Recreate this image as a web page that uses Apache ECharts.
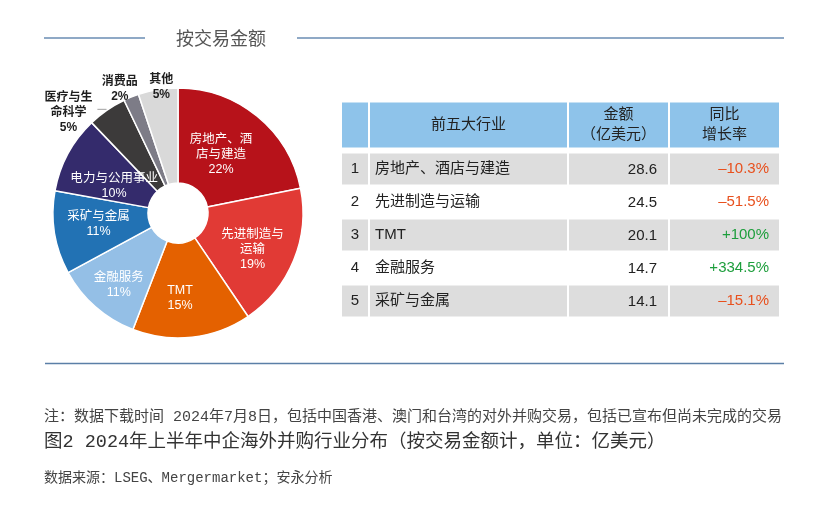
<!DOCTYPE html>
<html>
<head>
<meta charset="utf-8">
<script src="https://cdn.jsdelivr.net/npm/echarts@6/dist/echarts.min.js"></script>
<style>
html,body{margin:0;padding:0;background:#fff;}
#chart{width:828px;height:511px;}
</style>
</head>
<body>
<div id="chart"></div>
<script>
// ---------- DATA ----------
const pieNames = ['房地产、酒店与建造','先进制造与运输','TMT','金融服务','采矿与金属','电力与公用事业','医疗与生命科学','消费品','其他'];
const pieLabelLines = [['房地产、酒','店与建造'],['先进制造与','运输'],['TMT'],['金融服务'],['采矿与金属'],['电力与公用事业'],['医疗与生','命科学'],['消费品'],['其他']];
const pieValues = [28.6, 24.5, 20.1, 14.7, 14.1, 13.1, 6.6, 2.6, 6.7];

const tableHeaders = ['', '前五大行业', '金额\n（亿美元）', '同比\n增长率'];
const rankLabels = ['1', '2', '3', '4', '5'];
const topIndustries = ['房地产、酒店与建造', '先进制造与运输', 'TMT', '金融服务', '采矿与金属'];
const amounts = [28.6, 24.5, 20.1, 14.7, 14.1];
const growthRates = [-10.3, -51.5, 100, 334.5, -15.1];

const titleText = '按交易金额';
const noteText = '注：数据下载时间 2024年7月8日，包括中国香港、澳门和台湾的对外并购交易，包括已宣布但尚未完成的交易';
const captionText = '图2 2024年上半年中企海外并购行业分布（按交易金额计，单位：亿美元）';
const sourceText = '数据来源：LSEG、Mergermarket；安永分析';

// ---------- STYLE / LAYOUT ----------
const pieColors = ['#B7121A','#E13A35','#E46100','#94BFE6','#2272B4','#342B6C','#3C3A3A','#7D7C87','#D9D9D9'];
const outsideIdx = [6, 7, 8];
const labelOffsets = [[-8,4],[0,6],[-7,5],[-6,12],[0,-2],[7,11],[0,3],[15,0],[21,2]];
const outsideLines = {
  6: {show: true, length: 1, length2: 9, lineStyle: {color: '#A0A0A0', width: 1}},
  7: {show: false, length: 9, length2: 0},
  8: {show: false, length: 4, length2: 0}
};
const colStarts = [0, 28, 227, 328];
const colEnds = [26, 225, 326, 437];
const SANS = "'Liberation Sans','Noto Sans CJK SC',sans-serif";
const MONO = "'Liberation Mono','Noto Sans CJK SC',monospace";

const chart = echarts.init(document.getElementById('chart'), null, {renderer: 'canvas'});

function growthText(v) {
  return (v < 0 ? '\u2013' + Math.abs(v) : '+' + v) + '%';
}

const option = {
  animation: false,
  backgroundColor: '#fff',
  grid: [
    {left: 342, top: 102.5, width: 437, height: 45},
    {left: 342, top: 152.5, width: 437, height: 165}
  ],
  xAxis: [
    {gridIndex: 0, type: 'value', min: 0, max: 437, show: false},
    {gridIndex: 1, type: 'value', min: 0, max: 437, show: false}
  ],
  yAxis: [
    {gridIndex: 0, type: 'category', data: ['header'], show: false},
    {gridIndex: 1, type: 'category', data: rankLabels, inverse: true, show: false}
  ],
  graphic: [
    {type: 'line', shape: {x1: 44, y1: 38, x2: 145, y2: 38}, style: {stroke: '#8FA9C6', lineWidth: 2}},
    {type: 'line', shape: {x1: 297, y1: 38, x2: 784, y2: 38}, style: {stroke: '#8FA9C6', lineWidth: 2}},
    {type: 'line', shape: {x1: 45, y1: 363.5, x2: 784, y2: 363.5}, style: {stroke: '#5B7FA7', lineWidth: 1.5}},
    {type: 'text', x: 176, y: 40, style: {text: titleText, fill: '#555', fontSize: 18, fontFamily: SANS, verticalAlign: 'middle', align: 'left'}},
    {type: 'text', x: 44, y: 417, style: {text: noteText, fill: '#444', fontSize: 15, fontFamily: MONO, verticalAlign: 'middle', align: 'left'}},
    {type: 'text', x: 44, y: 442, style: {text: captionText, fill: '#333', fontSize: 18.5, fontFamily: MONO, verticalAlign: 'middle', align: 'left'}},
    {type: 'text', x: 44, y: 478, style: {text: sourceText, fill: '#444', fontSize: 14, fontFamily: MONO, verticalAlign: 'middle', align: 'left'}}
  ],
  series: [
    {
      type: 'pie',
      silent: true,
      center: [178, 213],
      radius: [30, 125],
      startAngle: 90,
      clockwise: true,
      avoidLabelOverlap: false,
      itemStyle: {borderColor: '#fff', borderWidth: 1.5},
      label: {
        show: true,
        fontFamily: SANS,
        formatter: function (p) {
          const key = outsideIdx.indexOf(p.dataIndex) >= 0 ? 'd' : 'w';
          const lines = pieLabelLines[p.dataIndex].concat([Math.round(p.percent) + '%']);
          return lines.map(function (l) { return '{' + key + '|' + l + '}'; }).join('\n');
        },
        rich: {
          w: {color: '#fff', fontSize: 12.5, lineHeight: 15, align: 'center', fontFamily: SANS},
          d: {color: '#1E1E1E', fontSize: 12, lineHeight: 15, align: 'center', fontFamily: SANS, fontWeight: 'bold'}
        }
      },
      labelLayout: function (params) {
        const o = labelOffsets[params.dataIndex];
        return {dx: o[0], dy: o[1]};
      },
      data: pieNames.map(function (n, i) {
        const outside = outsideIdx.indexOf(i) >= 0;
        return {
          name: n,
          value: pieValues[i],
          itemStyle: {color: pieColors[i]},
          label: {position: outside ? 'outside' : 'inside'},
          labelLine: outside ? outsideLines[i] : {show: false}
        };
      })
    },
    {
      type: 'custom',
      xAxisIndex: 0,
      yAxisIndex: 0,
      silent: true,
      data: [[0, 0]],
      encode: {x: 0, y: 1},
      renderItem: function (params, api) {
        const h = api.size([0, 1])[1];
        const cy = api.coord([0, 0])[1];
        const children = [];
        for (let c = 0; c < 4; c++) {
          const x0 = api.coord([colStarts[c], 0])[0];
          const x1 = api.coord([colEnds[c], 0])[0];
          children.push({type: 'rect', shape: {x: x0, y: cy - h / 2, width: x1 - x0, height: h}, style: {fill: '#8EC3EA'}});
          if (tableHeaders[c]) {
            children.push({type: 'text', style: {text: tableHeaders[c], x: (x0 + x1) / 2, y: cy, align: 'center', verticalAlign: 'middle', fontSize: 15, lineHeight: 20, fontFamily: SANS, fill: '#222'}});
          }
        }
        return {type: 'group', children: children};
      }
    },
    {
      type: 'custom',
      xAxisIndex: 1,
      yAxisIndex: 1,
      silent: true,
      data: rankLabels.map(function (r, i) { return [0, i]; }),
      encode: {x: 0, y: 1},
      renderItem: function (params, api) {
        const i = api.value(1);
        const h = api.size([0, 1])[1];
        const cy = api.coord([0, i])[1];
        const xs = colStarts.map(function (v) { return api.coord([v, i])[0]; });
        const xe = colEnds.map(function (v) { return api.coord([v, i])[0]; });
        const children = [];
        if (i % 2 === 0) {
          for (let c = 0; c < 4; c++) {
            children.push({type: 'rect', shape: {x: xs[c], y: cy - h / 2 + 1, width: xe[c] - xs[c], height: h - 2}, style: {fill: '#DDDDDD'}});
          }
        }
        const base = {fontSize: 15, fontFamily: SANS, verticalAlign: 'middle'};
        children.push({type: 'text', style: Object.assign({}, base, {text: rankLabels[i], x: (xs[0] + xe[0]) / 2, y: cy, align: 'center', fill: '#222'})});
        children.push({type: 'text', style: Object.assign({}, base, {text: topIndustries[i], x: xs[1] + 5, y: cy, align: 'left', fill: '#222'})});
        children.push({type: 'text', style: Object.assign({}, base, {text: amounts[i].toFixed(1), x: xe[2] - 11, y: cy + 1, align: 'right', fill: '#222'})});
        children.push({type: 'text', style: Object.assign({}, base, {text: growthText(growthRates[i]), x: xe[3] - 10, y: cy, align: 'right', fill: growthRates[i] < 0 ? '#E8501D' : '#1D9E3C'})});
        return {type: 'group', children: children};
      }
    }
  ]
};
chart.setOption(option);
</script>
</body>
</html>
